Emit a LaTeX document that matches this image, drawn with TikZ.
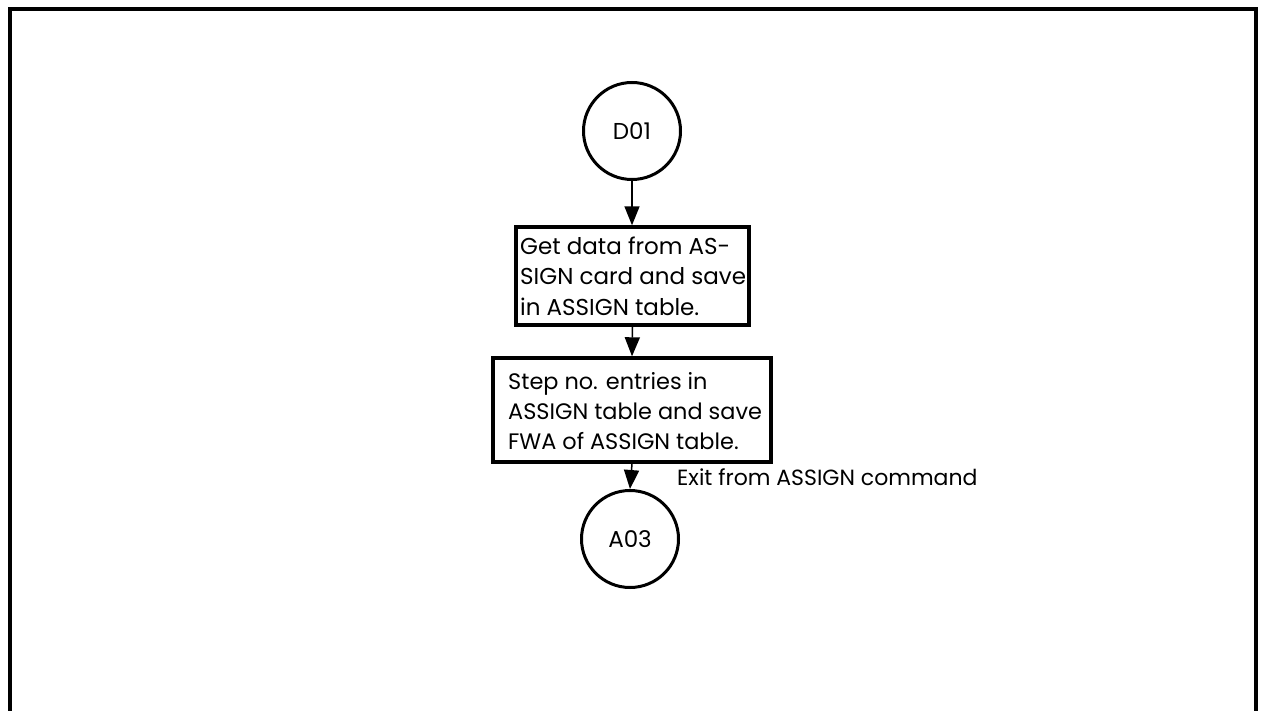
\documentclass[tikz,border=0pt]{standalone}
\usepackage{fontspec}
\setmainfont{Poppins}
\usetikzlibrary{arrows.meta}
\begin{document}
\begin{tikzpicture}[x=1pt,y=-1pt,
  frame/.style={line width=3.8pt},
  conn/.style={circle,draw,line width=3pt,minimum size=97pt,inner sep=0pt,font=\fontsize{23}{26}\selectfont},
  procbox/.style={draw,line width=3.4pt,inner sep=0pt},
  boxtext/.style={anchor=west,align=left,inner sep=0pt,font=\fontsize{23}{30.5}\selectfont},
  flow/.style={line width=1.5pt,-{Triangle[length=19pt,width=15pt]}},
  lbl/.style={font=\fontsize{22}{26}\selectfont,anchor=base west,inner sep=0pt}]
\useasboundingbox (0,0) rectangle (1263,711);
\draw[frame] (10,720) -- (10,9) -- (1256,9) -- (1256,720);
\node[conn] (d01) at (632,131) {D01};
\node[procbox,minimum width=233pt,minimum height=98pt] (b1) at (632.5,276) {};
\node[boxtext] (b1t) at (520,276) {Get data from AS-\\SIGN card and save\\in ASSIGN table.};
\node[procbox,minimum width=278pt,minimum height=104pt] (b2) at (632,410) {};
\node[boxtext,font=\fontsize{22.4}{30}\selectfont] (b2t) at (508,411) {Step no. entries in\\ASSIGN table and save\\FWA of ASSIGN table.};
\node[conn] (a03) at (630,539) {A03};
\draw[flow] (d01.south) -- (d01.south |- b1.north);
\draw[flow] (b1.south) -- (b2.north);
\draw[flow] (b2.south) -- (a03.north);
\node[lbl] (exit) at (677,485) {Exit from ASSIGN command};
\end{tikzpicture}
\end{document}
